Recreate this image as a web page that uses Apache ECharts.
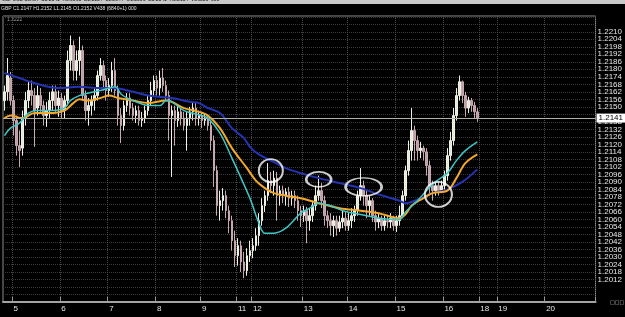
<!DOCTYPE html>
<html><head><meta charset="utf-8">
<script src="https://cdn.jsdelivr.net/npm/echarts@6/dist/echarts.min.js"></script>
<style>html,body{margin:0;padding:0;background:#000;overflow:hidden}#c{width:625px;height:317px}</style>
</head><body><div id="c"></div>
<script>
// ---- data ----
const dayLabels = ['5','6','7','8','9','11','12','13','14','15','16','18','19','20'];
const dayStarts = [3,19,35,51,66,78,83,100,115,131,147,159,165,181];
const slotCount = 198;
const lastPrice = 1.2141;

const opens = [
1.2155,1.2162,1.2173,1.2155,1.2139,1.2119,1.2117,1.2141,1.2155,1.2163,
1.2159,1.2149,1.2159,1.2151,1.2143,1.2147,1.2155,1.2162,1.2151,1.2157,
1.2147,1.2155,1.2187,1.2199,1.2179,1.2187,1.2195,1.2159,1.2147,1.2151,
1.2155,1.2159,1.2175,1.2183,1.2171,1.2163,1.2167,1.2179,1.2163,1.2143,
1.2135,1.2151,1.2157,1.2149,1.2143,1.2147,1.2139,1.2141,1.2147,1.2155,
1.2163,1.2171,1.2165,1.2173,1.2167,1.2159,1.2143,1.2147,1.2139,1.2146,
1.2141,1.2135,1.2141,1.2146,1.2149,1.2141,1.2143,1.2139,1.2141,1.2135,
1.2123,1.2099,1.2071,1.2075,1.2079,1.2067,1.2059,1.2043,1.2031,1.2039,
1.2026,1.2019,1.2031,1.2035,1.2039,1.2047,1.2059,1.2071,1.2079,1.2091,
1.2087,1.2093,1.2079,1.2083,1.2079,1.2082,1.2077,1.2079,1.2075,1.2067,
1.2063,1.2067,1.2059,1.2063,1.2071,1.2079,1.2083,1.2075,1.2063,1.2059,
1.2055,1.2059,1.2053,1.2058,1.2061,1.2055,1.2059,1.2063,1.2067,1.2079,
1.2087,1.2079,1.2071,1.2075,1.2063,1.2058,1.2061,1.2055,1.2059,1.2058,
1.2061,1.2055,1.2059,1.2063,1.2079,1.2099,1.2115,1.2131,1.2123,1.2115,
1.2117,1.2114,1.2103,1.2087,1.2083,1.2087,1.2083,1.2087,1.2095,1.2111,
1.2123,1.2143,1.2159,1.2170,1.2159,1.2149,1.2155,1.2151,1.2146];

const closes = [
1.2162,1.2175,1.2155,1.2139,1.2119,1.2115,1.2141,1.2155,1.2163,1.2159,
1.2147,1.2159,1.2151,1.2143,1.2147,1.2155,1.2162,1.2151,1.2157,1.2147,
1.2155,1.2187,1.2199,1.2179,1.2187,1.2195,1.2159,1.2147,1.2151,1.2155,
1.2159,1.2175,1.2183,1.2171,1.2163,1.2167,1.2179,1.2163,1.2143,1.2135,
1.2151,1.2157,1.2149,1.2143,1.2147,1.2139,1.2141,1.2147,1.2155,1.2163,
1.2171,1.2165,1.2173,1.2167,1.2159,1.2143,1.2147,1.2139,1.2146,1.2141,
1.2135,1.2141,1.2146,1.2149,1.2141,1.2143,1.2139,1.2141,1.2135,1.2123,
1.2099,1.2071,1.2075,1.2079,1.2067,1.2059,1.2043,1.2031,1.2039,1.2026,
1.2019,1.2031,1.2035,1.2039,1.2047,1.2059,1.2071,1.2079,1.2091,1.2087,
1.2093,1.2079,1.2083,1.2079,1.2082,1.2077,1.2079,1.2075,1.2067,1.2063,
1.2067,1.2059,1.2063,1.2071,1.2079,1.2083,1.2075,1.2063,1.2059,1.2055,
1.2059,1.2053,1.2058,1.2061,1.2055,1.2059,1.2063,1.2067,1.2079,1.2087,
1.2079,1.2071,1.2075,1.2063,1.2058,1.2061,1.2055,1.2059,1.2058,1.2061,
1.2055,1.2059,1.2063,1.2079,1.2099,1.2115,1.2131,1.2123,1.2115,1.2117,
1.2114,1.2103,1.2087,1.2083,1.2087,1.2083,1.2087,1.2095,1.2111,1.2123,
1.2143,1.2159,1.2170,1.2159,1.2149,1.2155,1.2151,1.2146,1.2141];

const lows = [
1.2147,1.2155,1.2151,1.2127,1.2111,1.2102,1.2111,1.2135,1.2149,1.2151,
1.2118,1.2143,1.2146,1.2135,1.2134,1.2141,1.2147,1.2146,1.2142,1.2141,
1.2141,1.2151,1.2179,1.2171,1.2171,1.2175,1.2155,1.2139,1.2135,1.2143,
1.2147,1.2155,1.2171,1.2163,1.2155,1.2158,1.2162,1.2159,1.2135,1.2121,
1.2131,1.2146,1.2143,1.2139,1.2137,1.2135,1.2134,1.2137,1.2143,1.2151,
1.2159,1.2159,1.2159,1.2162,1.2155,1.2123,1.2094,1.2119,1.2134,1.2135,
1.2131,1.2115,1.2135,1.2139,1.2135,1.2135,1.2133,1.2135,1.2131,1.2115,
1.2086,1.2063,1.2059,1.2067,1.2061,1.2049,1.2035,1.2022,1.2023,1.2018,
1.2013,1.2015,1.2026,1.2029,1.2035,1.2039,1.2055,1.2066,1.2075,1.2081,
1.2079,1.2059,1.2071,1.2073,1.2071,1.2070,1.2071,1.2069,1.2059,1.2054,
1.2058,1.2041,1.2051,1.2058,1.2067,1.2075,1.2069,1.2055,1.2053,1.2047,
1.2046,1.2047,1.2050,1.2053,1.2051,1.2051,1.2053,1.2058,1.2063,1.2075,
1.2071,1.2061,1.2063,1.2058,1.2051,1.2053,1.2051,1.2051,1.2053,1.2053,
1.2051,1.2050,1.2055,1.2061,1.2075,1.2095,1.2107,1.2107,1.2107,1.2109,
1.2107,1.2095,1.2079,1.2075,1.2079,1.2079,1.2081,1.2083,1.2091,1.2107,
1.2119,1.2139,1.2155,1.2153,1.2142,1.2145,1.2146,1.2141,1.2138];

const highs = [
1.2167,1.2189,1.2178,1.2159,1.2143,1.2131,1.2147,1.2162,1.2170,1.2171,
1.2165,1.2167,1.2165,1.2155,1.2154,1.2162,1.2167,1.2167,1.2163,1.2161,
1.2159,1.2195,1.2207,1.2203,1.2195,1.2206,1.2199,1.2163,1.2157,1.2159,
1.2165,1.2179,1.2189,1.2187,1.2175,1.2173,1.2186,1.2189,1.2167,1.2149,
1.2155,1.2161,1.2161,1.2153,1.2151,1.2151,1.2146,1.2151,1.2159,1.2170,
1.2175,1.2175,1.2179,1.2181,1.2171,1.2163,1.2151,1.2151,1.2151,1.2149,
1.2146,1.2146,1.2150,1.2153,1.2153,1.2147,1.2146,1.2145,1.2143,1.2139,
1.2127,1.2103,1.2083,1.2085,1.2083,1.2071,1.2063,1.2051,1.2045,1.2043,
1.2034,1.2037,1.2043,1.2045,1.2053,1.2065,1.2077,1.2083,1.2105,1.2098,
1.2099,1.2098,1.2087,1.2087,1.2085,1.2086,1.2083,1.2083,1.2079,1.2071,
1.2071,1.2070,1.2069,1.2075,1.2087,1.2095,1.2089,1.2079,1.2067,1.2065,
1.2063,1.2063,1.2063,1.2067,1.2066,1.2065,1.2069,1.2071,1.2083,1.2101,
1.2091,1.2083,1.2079,1.2077,1.2067,1.2065,1.2063,1.2063,1.2063,1.2065,
1.2063,1.2063,1.2071,1.2083,1.2103,1.2123,1.2149,1.2135,1.2127,1.2122,
1.2119,1.2117,1.2107,1.2091,1.2090,1.2090,1.2091,1.2099,1.2117,1.2130,
1.2149,1.2165,1.2175,1.2171,1.2162,1.2158,1.2157,1.2154,1.2149];

// moving averages: [slot index, price]
const maSlow = [[0,1.2177],[5,1.2173],[10,1.2169],[18,1.2165],[25,1.2166],[32,1.2165],[36,1.2165],[43,1.2162],[48,1.2159],[56,1.2157],[62,1.2154],[65,1.2153],[68,1.2149],[72,1.2145],[76,1.2133],[80,1.2125],[82,1.2118],[85,1.2112],[90,1.2106],[94,1.2101],[99,1.2097],[105,1.2093],[112,1.2089],[119,1.2085],[125,1.2080],[132,1.2075],[134,1.2073],[139,1.2077],[143,1.2081],[148,1.2084],[153,1.2090],[158,1.2100]];
const maMid = [[0,1.2141],[2,1.2143],[6,1.2141],[10,1.2145],[15,1.2145],[20,1.2147],[23,1.2153],[25,1.2156],[28,1.2155],[32,1.2157],[35,1.2159],[38,1.2157],[43,1.2155],[48,1.2153],[54,1.2155],[60,1.2149],[65,1.2146],[68,1.2143],[72,1.2133],[76,1.2117],[81,1.2101],[84,1.2091],[87,1.2085],[90,1.2081],[94,1.2079],[99,1.2077],[105,1.2073],[112,1.2069],[119,1.2067],[125,1.2065],[132,1.2061],[134,1.2064],[136,1.2071],[140,1.2077],[143,1.2081],[148,1.2083],[151,1.2093],[154,1.2105],[158,1.2112]];
const maFast = [[0,1.2127],[2,1.2133],[5,1.2137],[8,1.2145],[11,1.2147],[15,1.2147],[20,1.2149],[22,1.2155],[25,1.2159],[28,1.2161],[32,1.2163],[35,1.2165],[37,1.2166],[39,1.2160],[41,1.2157],[45,1.2153],[48,1.2151],[52,1.2151],[54,1.2155],[56,1.2154],[60,1.2147],[66,1.2143],[68,1.2141],[72,1.2129],[76,1.2109],[82,1.2077],[85,1.2057],[87,1.2049],[90,1.2049],[94,1.2053],[99,1.2065],[102,1.2069],[105,1.2073],[109,1.2071],[113,1.2067],[119,1.2064],[125,1.2061],[132,1.2060],[134,1.2066],[138,1.2075],[141,1.2083],[144,1.2090],[148,1.2097],[151,1.2107],[154,1.2115],[158,1.2122]];

// circled spots: [slot index, price]
const circledSpots = [[89,1.2099],[105,1.2092],[120,1.2086],[145,1.2080]];

// ---- build ----
const categories = [];
for (let k = 0; k < slotCount; k++) {
  const d = dayStarts.indexOf(k);
  categories.push(d >= 0 ? dayLabels[d] : '_' + k);
}
const candleData = opens.map((o, i) => [o, closes[i], lows[i], highs[i]]);
const ellipseSizes = [[24,23],[25,15],[36,18],[27,25]];
const isDay = (i, v) => String(v).charAt(0) !== '_';
const FONT = 'Liberation Sans, Arial, sans-serif';

const chart = echarts.init(document.getElementById('c'), null, {renderer: 'canvas'});
chart.setOption({
  backgroundColor: '#000000',
  animation: false,
  grid: {left: 3, right: 28, top: 16, bottom: 15, show: true, borderColor: '#8e8e8e', borderWidth: 1},
  xAxis: {
    type: 'category', data: categories, boundaryGap: true,
    axisLine: {show: true, lineStyle: {color: '#a4a4a4', width: 2}},
    axisTick: {show: true, inside: true, length: 5, interval: isDay, lineStyle: {color: '#9a9a9a'}},
    axisLabel: {interval: isDay, formatter: v => (v.charAt(0) === '_' ? '' : v), color: '#e6e6e6', fontSize: 8, fontFamily: FONT, align: 'left', margin: 3},
    splitLine: {show: true, interval: isDay, lineStyle: {color: '#4c4c4c', type: 'dotted', width: 1}}
  },
  yAxis: {
    type: 'value', position: 'right', min: 1.1994, max: 1.22226, interval: 0.0006,
    axisLine: {show: false}, axisTick: {show: false},
    axisLabel: {
      margin: 2, fontSize: 8, color: '#e6e6e6', fontFamily: FONT,
      formatter: v => (v < 1.20115 || v > 1.22105 || Math.abs(v - 1.2144) < 0.00002) ? '' : v.toFixed(4)
    },
    splitLine: {show: true, lineStyle: {color: '#3a3a3a', type: 'dotted', width: 1}}
  },
  series: [
    {
      type: 'candlestick', data: candleData, barWidth: 2, z: 2, silent: true,
      itemStyle: {color: '#e2ead2', color0: '#b9a0a6', borderColor: '#eef2e6', borderColor0: '#c8a8b0', borderWidth: 1}
    },
    {
      type: 'line', data: maSlow, smooth: 0.35, symbol: 'none', z: 3, silent: true, lineStyle: {color: '#2434b4', width: 2},
      markLine: {
        silent: true, symbol: ['none', 'none'], animation: false, precision: 4,
        lineStyle: {color: '#b2b2a2', type: 'solid', width: 1},
        label: {show: true, position: 'end', distance: 1, formatter: () => lastPrice.toFixed(4),
          backgroundColor: '#ffffff', color: '#000000', fontSize: 8, fontFamily: FONT, padding: [1, 2, 0, 2]},
        emphasis: {disabled: true},
        data: [{yAxis: lastPrice}]
      }
    },
    {type: 'line', data: maMid, smooth: 0.35, symbol: 'none', z: 4, silent: true, lineStyle: {color: '#f2a82a', width: 2}},
    {type: 'line', data: maFast, smooth: 0.35, symbol: 'none', z: 5, silent: true, lineStyle: {color: '#3ec6c6', width: 1.5}},
    {
      type: 'scatter', z: 10, silent: true, symbol: 'circle',
      data: circledSpots.map((p, i) => ({value: p, symbolSize: ellipseSizes[i]})),
      itemStyle: {color: 'rgba(0,0,0,0)', borderColor: '#ffffff', borderWidth: 2}
    }
  ],
  graphic: [
    {type: 'rect', shape: {x: 0, y: 0, width: 625, height: 4}, style: {fill: '#c8c8c8'}, silent: true},
    {type: 'text', x: 2, y: -3, silent: true, style: {text: 'GBPUSD 30min  C1.2141  X0.0061  E1.2154  L1.2044  O1.2006  E1.2141  X1.2154  V36536  000', fill: '#111', font: '5px ' + FONT}},
    {type: 'text', x: 1, y: 6, silent: true, style: {text: 'GBP C1.2147 H1.2152 L1.2145 O1.2152 V438 (6840+1) 000', fill: '#e0e0e0', font: '5px ' + FONT}},
    {type: 'text', x: 7, y: 17, silent: true, style: {text: '1.2222', fill: '#9a9a9a', font: '5px ' + FONT}},
    {type: 'text', x: 610, y: 300, silent: true, style: {text: '\u25a1\u25a1\u25a1', fill: '#cfcfcf', font: '5px DejaVu Sans'}}
  ]
});
</script></body></html>
